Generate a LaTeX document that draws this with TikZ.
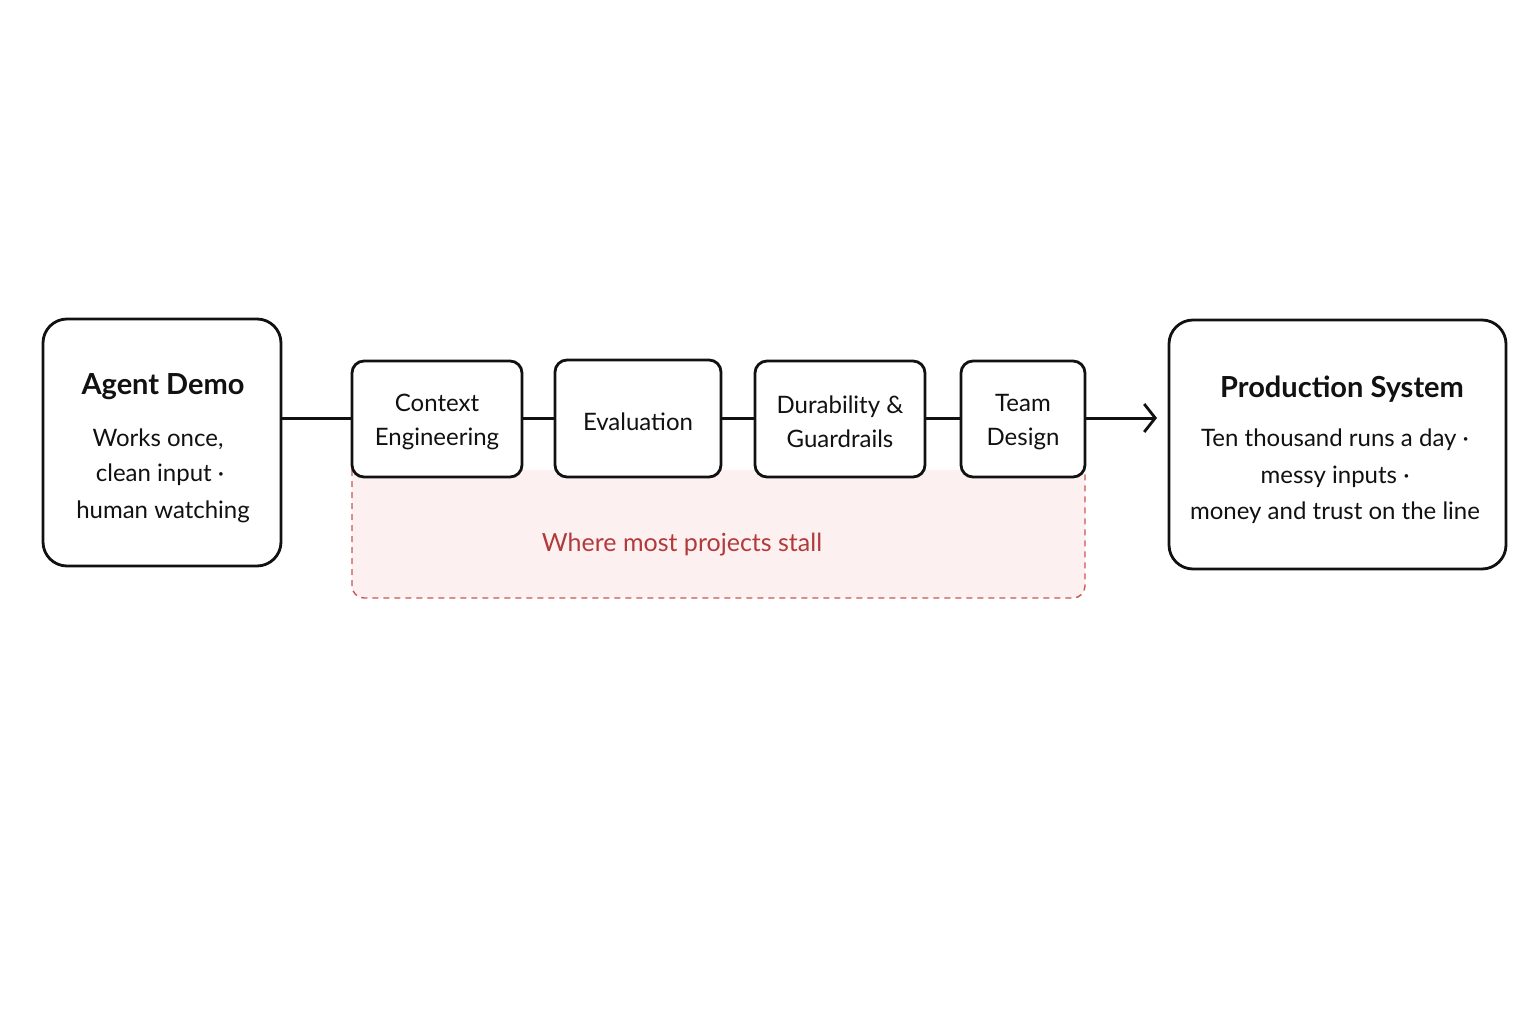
\documentclass[tikz,border=0pt]{standalone}
\usepackage{fontspec}
\setmainfont{Lato}
\usetikzlibrary{arrows.meta}
\definecolor{ink}{HTML}{111111}
\definecolor{stallred}{HTML}{B23A3A}
\definecolor{stallfill}{HTML}{FDF0F0}
\definecolor{stalldash}{HTML}{C95654}
\tikzset{
  bigbox/.style={draw=ink, line width=2.8pt, rounded corners=24pt, fill=white},
  stepbox/.style={draw=ink, line width=2.8pt, rounded corners=12pt, fill=white},
  link/.style={draw=ink, line width=3pt},
  title/.style={font=\fontsize{29}{34}\selectfont\bfseries, text=ink, inner sep=0pt},
  body/.style={font=\fontsize{24}{28}\selectfont, text=ink, inner sep=0pt},
  lbl/.style={font=\fontsize{24}{34}\selectfont, text=ink, align=center, inner sep=0pt},
}
\begin{document}
\begin{tikzpicture}[x=1pt,y=-1pt]
\useasboundingbox[fill=white] (0,0) rectangle (1536,1024);
% stall region
\path[fill=stallfill, rounded corners=12pt] (352,470) -- (352,598) -- (1085,598) -- (1085,470) -- cycle;
\draw[stalldash, line width=1.4pt, dash pattern=on 6pt off 5pt, rounded corners=12pt] (352,470) -- (352,598) -- (1085,598) -- (1085,470);
% boxes
\node[bigbox, minimum width=238pt, minimum height=247pt] (demo) at (162,442.5) {};
\node[stepbox, minimum width=170pt, minimum height=116pt] (ctx) at (437,419) {};
\node[stepbox, minimum width=166pt, minimum height=117pt] (eval) at (638,418.5) {};
\node[stepbox, minimum width=170pt, minimum height=116pt] (dur) at (840,419) {};
\node[stepbox, minimum width=124pt, minimum height=116pt] (team) at (1023,419) {};
\node[bigbox, minimum width=337pt, minimum height=249pt] (prod) at (1337.5,444.5) {};
\coordinate (tip) at (1157,418);
% connectors
\draw[link] (demo.east |- 0,418) -- (ctx.west |- 0,418);
\draw[link] (ctx.east |- 0,418) -- (eval.west |- 0,418);
\draw[link] (eval.east |- 0,418) -- (dur.west |- 0,418);
\draw[link] (dur.east |- 0,418) -- (team.west |- 0,418);
\draw[link, -{Straight Barb[length=11pt,width=28pt,line width=2.8pt]}] (team.east |- 0,418) -- (tip);
% texts
\node[title] (demot) at (163,387) {Agent Demo};
\node[body] (demo1) at (158,439) {Works once,};
\node[body] (demo2) at (160,475) {clean input ·};
\node[body] (demo3) at (163,512) {human watching};
\node[lbl] (ctxt) at (437,422) {Context\\Engineering};
\node[lbl] (evalt) at (638,422) {Evaluation};
\node[lbl] (durt) at (840,422) {Durability \&\\Guardrails};
\node[lbl] (teamt) at (1023,422) {Team\\Design};
\node[title] (prodt) at (1342,389) {Production System};
\node[body] (prod1) at (1335,440) {Ten thousand runs a day ·};
\node[body] (prod2) at (1335,477) {messy inputs ·};
\node[body] (prod3) at (1335,513) {money and trust on the line};
\node[font=\fontsize{25}{28}\selectfont, text=stallred, inner sep=0pt] (stall) at (682,545) {Where most projects stall};
\end{tikzpicture}
\end{document}
